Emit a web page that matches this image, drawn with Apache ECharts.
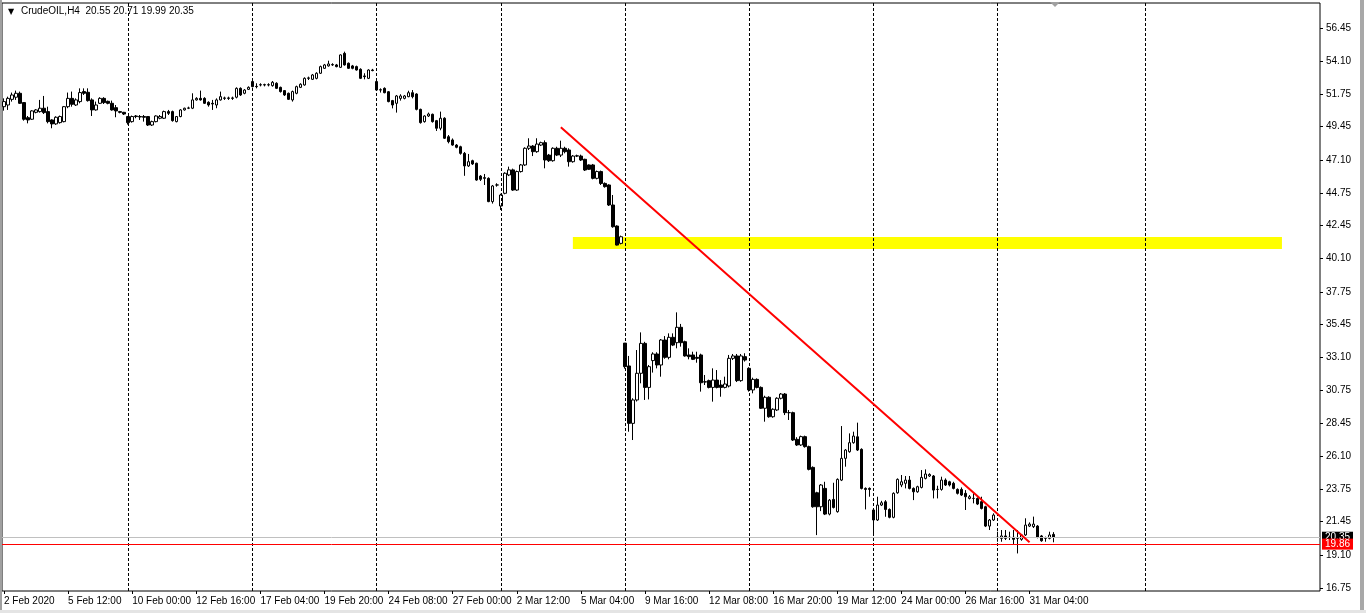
<!DOCTYPE html>
<html><head><meta charset="utf-8">
<script src="https://cdn.jsdelivr.net/npm/echarts@6/dist/echarts.min.js"></script>
<style>html,body{margin:0;padding:0;background:#fff;overflow:hidden}#c{width:1366px;height:613px}</style>
</head><body><div id="c"></div>
<script>
const symbolName = 'CrudeOIL,H4';
const timeLabels = ['2 Feb 2020','5 Feb 12:00','10 Feb 00:00','12 Feb 16:00','17 Feb 04:00','19 Feb 20:00','24 Feb 08:00','27 Feb 00:00','2 Mar 12:00','5 Mar 04:00','9 Mar 16:00','12 Mar 08:00','16 Mar 20:00','19 Mar 12:00','24 Mar 00:00','26 Mar 16:00','31 Mar 04:00'];
const priceTicks = ['56.45','54.10','51.75','49.45','47.10','44.75','42.45','40.10','37.75','35.45','33.10','30.75','28.45','26.10','23.75','21.45','19.10','16.75'];

const opens = [50.87,50.99,51.39,51.54,51.82,51.16,50.09,49.98,50.47,50.52,50.76,50.52,49.93,49.65,49.74,49.81,50.87,51.46,50.99,51.23,51.94,51.89,51.35,50.64,51.11,51.46,51.25,51.11,50.80,50.52,50.47,
50.17,49.81,50.21,50.17,50.17,50.17,49.57,49.81,50.05,50.05,50.52,50.52,49.81,50.17,50.64,50.76,50.76,51.35,51.46,51.46,51.18,51.11,50.99,51.35,51.46,51.49,51.46,51.54,52.17,51.82,52.10,52.65,
52.31,52.41,52.43,52.41,52.36,52.53,52.24,52.01,51.82,51.35,51.82,52.24,52.41,52.88,52.81,52.88,53.24,53.59,53.76,53.83,53.83,53.66,54.65,53.95,53.76,53.71,53.52,53.05,52.88,53.47,
52.65,52.07,52.17,51.93,51.30,51.11,51.46,51.46,51.58,51.86,51.77,50.68,49.81,50.21,50.33,49.88,49.34,50.05,48.74,48.51,48.15,48.03,47.56,46.67,47.04,46.86,45.95,45.84,45.79,44.14,45.32,
43.83,44.73,46.03,46.39,44.96,46.27,46.74,47.92,48.08,47.68,48.15,48.32,47.44,47.04,47.92,47.44,47.92,47.80,46.97,47.37,47.37,47.14,46.74,46.74,45.79,46.27,45.43,45.32,43.90,42.41,41.18,
34.11,32.49,28.42,30.08,31.97,34.09,30.97,32.87,33.34,32.56,34.33,33.10,34.52,34.14,35.23,34.21,33.27,33.27,33.10,33.27,31.37,31.45,30.97,31.49,31.14,30.97,31.07,33.03,33.20,31.45,33.15,
32.32,30.79,31.54,30.97,29.49,30.27,28.89,29.37,30.20,30.50,29.18,29.18,27.29,26.89,27.48,26.77,25.30,23.50,22.51,23.81,21.99,23.03,22.16,24.40,25.94,26.41,27.05,27.47,26.58,23.81,23.81,
22.28,21.57,22.63,22.86,22.32,21.76,23.50,24.05,24.17,24.40,23.81,23.57,23.88,24.52,24.69,24.69,23.74,23.74,24.40,24.28,24.17,23.74,23.74,23.46,23.10,23.10,23.10,22.87,22.51,21.14,21.57,
20.34,20.27,20.44,20.34,20.34,20.27,20.20,20.51,21.14,21.10,21.14,20.44,20.27,20.27,20.55];
const highs = [51.46,51.58,51.87,52.01,51.94,51.18,50.21,50.62,50.70,51.35,51.63,50.87,49.98,50.19,50.24,50.92,51.87,51.94,51.46,52.17,52.17,52.17,51.46,51.23,51.54,51.54,51.30,51.30,50.99,50.57,50.50,
50.21,50.24,50.28,50.28,50.28,50.21,49.88,50.26,50.28,50.59,50.64,50.59,50.21,50.70,50.80,50.87,51.82,51.54,52.01,51.54,51.25,51.35,51.46,51.94,51.58,51.58,51.58,52.24,52.24,52.12,52.31,52.76,
52.53,52.53,52.50,52.53,52.69,52.60,52.29,52.05,51.87,52.01,52.36,52.53,52.95,53.00,53.19,53.31,53.78,53.90,54.13,53.95,53.90,54.58,54.77,54.00,53.83,53.78,53.59,53.24,53.52,53.55,
52.72,52.17,52.24,51.98,51.35,51.70,51.75,51.70,52.00,52.05,51.82,50.73,50.26,50.45,50.38,49.93,50.52,50.12,48.86,48.62,48.22,48.10,47.66,47.52,47.11,46.90,46.02,46.10,45.86,45.32,45.44,
44.70,46.22,46.62,46.48,46.34,46.81,47.99,48.63,48.15,48.63,48.39,48.48,47.52,47.99,48.03,48.46,48.03,47.92,47.44,47.47,47.47,47.18,46.78,46.81,46.34,46.34,45.50,45.37,44.61,42.46,41.73,
34.11,33.20,30.20,33.62,34.87,34.20,32.56,33.46,33.46,34.40,34.61,34.80,34.80,36.29,35.47,34.28,33.74,33.50,33.50,33.36,31.85,31.52,32.32,32.20,31.49,31.73,33.27,33.34,33.34,33.34,33.39,
32.40,31.66,31.61,31.04,30.38,30.34,29.49,30.27,30.57,30.57,29.37,29.25,27.44,27.55,27.55,26.84,25.37,23.57,24.12,24.28,23.05,24.21,24.52,28.23,26.60,27.71,27.83,28.47,26.65,23.88,23.88,
22.35,23.22,22.93,22.98,22.39,23.53,24.52,24.76,24.69,24.69,23.88,24.00,25.11,25.16,24.88,24.76,24.00,24.64,24.52,24.35,24.28,23.81,23.88,23.69,23.34,23.46,23.17,23.22,22.58,21.64,22.04,
20.74,20.86,20.86,20.74,20.86,20.86,20.58,21.69,21.40,21.81,21.21,20.51,20.39,20.74,20.71];
const lows = [50.59,50.64,51.23,51.35,51.06,49.88,49.69,49.93,50.40,50.45,50.35,49.69,49.34,49.58,49.67,49.76,50.76,50.87,50.92,51.11,51.70,51.23,50.21,50.59,51.06,51.06,51.04,50.59,50.12,50.40,50.28,
49.60,49.74,50.05,49.93,49.81,49.50,49.50,49.76,49.98,50.00,50.28,49.81,49.76,50.12,50.59,50.70,50.70,51.30,51.30,51.06,50.87,50.64,50.76,51.30,51.35,51.35,51.35,51.46,51.63,51.75,52.05,52.24,
52.17,52.31,52.31,52.31,52.29,52.12,51.87,51.63,51.35,51.23,51.75,52.19,52.36,52.76,52.76,52.81,53.19,53.55,53.71,53.76,53.66,53.62,53.78,53.55,53.52,53.43,52.83,52.81,52.83,53.38,
51.98,51.87,51.82,51.18,50.75,50.45,51.30,51.39,51.54,51.46,50.61,49.67,49.74,50.14,49.74,49.15,49.20,48.58,48.27,48.10,47.92,47.47,45.97,46.60,46.74,45.62,45.60,45.32,44.10,44.00,45.20,
43.55,44.66,45.95,44.90,44.90,46.20,46.67,47.80,47.37,47.60,48.08,46.50,46.95,46.97,47.37,47.30,47.56,46.62,46.90,47.30,47.02,46.31,46.38,45.72,45.72,45.32,45.13,43.83,42.29,41.03,41.11,
32.30,27.83,27.24,29.97,31.26,30.08,30.12,32.02,32.32,31.73,33.00,32.96,33.90,33.74,33.86,33.15,32.96,32.91,32.72,30.67,31.14,30.90,29.96,30.90,30.31,30.90,30.97,32.91,31.35,31.37,32.80,
30.67,30.55,30.90,29.44,28.54,28.82,28.82,29.30,30.12,29.01,28.66,27.17,26.82,26.82,26.70,25.09,22.44,20.50,22.20,21.92,21.90,22.39,22.09,24.33,25.35,26.34,26.98,26.46,23.74,22.32,23.22,
20.62,21.50,22.56,21.80,21.69,21.69,23.43,23.90,23.81,23.74,22.98,23.50,23.81,24.45,24.62,23.10,23.10,23.65,23.98,23.95,23.74,23.38,23.27,22.28,23.03,22.75,22.63,22.32,21.07,20.86,21.50,
20.03,20.03,20.15,20.15,19.87,19.20,20.10,20.44,21.07,21.00,20.27,20.03,20.03,20.20,19.99];
const closes = [51.23,51.46,51.70,51.82,51.11,49.98,49.93,50.57,50.64,50.76,50.45,49.81,49.65,50.12,50.17,50.87,51.46,51.04,51.35,51.87,51.82,51.30,50.64,50.99,51.46,51.16,51.11,50.64,50.57,50.47,50.35,
49.74,50.17,50.17,50.14,50.12,49.57,49.81,50.21,50.17,50.52,50.40,49.88,50.17,50.64,50.76,50.78,51.35,51.46,51.35,51.11,50.99,51.06,51.35,51.58,51.49,51.46,51.49,52.17,51.70,52.05,52.24,52.29,
52.29,52.43,52.41,52.43,52.60,52.17,51.94,51.70,51.39,51.94,52.29,52.46,52.88,52.91,53.12,53.24,53.71,53.83,53.90,53.86,53.71,54.54,53.83,53.59,53.59,53.47,52.88,53.00,53.47,53.43,
52.05,52.05,51.86,51.23,50.99,51.63,51.63,51.63,51.86,51.58,50.68,49.74,50.21,50.35,49.81,49.34,50.05,48.63,48.39,48.15,47.99,47.56,46.67,46.97,46.81,45.67,45.72,45.79,44.14,45.25,45.32,
44.61,46.15,46.39,44.96,46.27,46.74,47.92,48.08,47.68,48.22,48.32,47.09,47.04,47.92,47.44,47.92,47.68,46.97,47.37,47.39,47.09,46.38,46.43,45.79,46.27,45.43,45.20,43.90,42.36,41.06,41.65,
32.44,28.42,30.08,31.97,34.09,30.97,32.44,33.34,32.56,34.33,33.10,34.52,33.97,35.23,34.14,33.20,33.15,32.96,33.03,31.30,31.35,30.97,31.49,30.97,30.97,31.21,33.03,33.20,31.45,33.20,32.91,
30.79,31.54,30.97,29.49,30.27,28.89,29.42,30.20,30.50,29.18,29.18,27.24,26.89,27.48,26.77,25.16,22.51,22.51,24.05,21.99,22.98,22.46,24.45,25.94,26.53,27.05,27.52,26.53,23.81,23.74,23.74,
21.57,22.63,22.79,22.32,21.76,23.46,24.45,24.28,24.40,23.81,23.57,23.93,24.59,24.83,24.80,23.69,23.74,24.40,24.05,24.05,23.81,23.46,23.34,23.22,23.22,23.10,22.70,22.39,21.14,21.57,21.92,
20.34,20.44,20.27,20.34,20.20,20.27,20.51,21.21,21.28,21.28,20.34,20.10,20.27,20.51,20.35];

const weekSeparators = [31, 62, 93, 124, 155, 186, 217, 248, 285];
const zoneStart = 142, zoneEnd = 319, zoneTop = 41.63, zoneBottom = 40.78;
const trendStart = [139, 49.41], trendEnd = [256, 20.00];
const levelPrice = 19.86;
const bidPrice = 20.35;
const slotCount = 329;

const categories = [];
for (let i = 0; i < slotCount; i++) categories.push('b' + i);
const candles = opens.map((o, i) => [o, closes[i], lows[i], highs[i]]);
const last = opens.length - 1;
const titleText = symbolName + '  ' + opens[last].toFixed(2) + ' ' + highs[last].toFixed(2) + ' ' + lows[last].toFixed(2) + ' ' + closes[last].toFixed(2);
const tickVals = priceTicks.map(Number);
const hasTimeLabel = idx => idx % 16 === 0 && idx / 16 < timeLabels.length;
const FONT = 'Liberation Sans';

const chart = echarts.init(document.getElementById('c'), null, {renderer: 'canvas'});
chart.setOption({
  animation: false,
  backgroundColor: '#ffffff',
  title: [
    {text: '▼', left: 8, top: 8, padding: 0, textStyle: {fontFamily: 'DejaVu Sans', fontSize: 8, fontWeight: 'normal', color: '#000'}},
    {text: titleText, left: 21, top: 6, padding: 0, textStyle: {fontFamily: FONT, fontSize: 10, fontWeight: 'normal', color: '#000'}}
  ],
  grid: {left: 2, right: 46, top: 3, bottom: 22, show: true, borderColor: '#000', borderWidth: 1, backgroundColor: '#fff', containLabel: false, outerBoundsMode: 'none'},
  xAxis: {
    type: 'category', data: categories, boundaryGap: true,
    axisLine: {show: false},
    axisTick: {show: true, interval: idx => hasTimeLabel(idx), alignWithLabel: true, length: 3, lineStyle: {color: '#000'}},
    axisLabel: {interval: idx => hasTimeLabel(idx), align: 'left', margin: 5, fontFamily: FONT, fontSize: 10, color: '#000',
      formatter: (v, idx) => hasTimeLabel(idx) ? timeLabels[idx / 16] : ''},
    splitLine: {show: false}
  },
  yAxis: {
    type: 'value', position: 'right', min: 16.537, max: 58.22, scale: true,
    axisLine: {show: false},
    axisTick: {show: true, length: 3, customValues: tickVals, lineStyle: {color: '#000'}},
    axisLabel: {customValues: tickVals, margin: 6, fontFamily: FONT, fontSize: 10, color: '#000',
      formatter: v => priceTicks[tickVals.indexOf(v)] || v.toFixed(2)},
    splitLine: {show: false}
  },
  series: [
    {
      type: 'line', data: [], z: 1, silent: true, clip: false,
      markArea: {silent: true, itemStyle: {color: '#ffff00', opacity: 1},
        data: [[{xAxis: zoneStart, yAxis: zoneTop}, {xAxis: zoneEnd, yAxis: zoneBottom}]]},
      markLine: {silent: true, symbol: ['none', 'none'], animation: false,
        lineStyle: {color: '#000', width: 1, type: [3, 2]},
        label: {show: false},
        data: weekSeparators.map(w => ({xAxis: w}))}
    },
    {
      type: 'line', data: [], z: 2, silent: true, clip: false,
      markLine: {silent: true, symbol: ['none', 'none'], animation: false,
        data: [{yAxis: bidPrice, lineStyle: {color: '#c0c0c0', width: 1, type: 'solid'},
          label: {show: true, position: 'end', distance: 2, formatter: bidPrice.toFixed(2), color: '#fff', backgroundColor: '#000', padding: [1, 3, 0, 3], fontFamily: FONT, fontSize: 10}}]}
    },
    {
      type: 'candlestick', data: candles, z: 3, barWidth: 3, silent: true,
      itemStyle: {color: '#ffffff', color0: '#000000', borderColor: '#000000', borderColor0: '#000000', borderWidth: 1}
    },
    {
      type: 'line', data: [], z: 5, silent: true, clip: false,
      markLine: {silent: true, symbol: ['none', 'none'], animation: false,
        data: [
          [{coord: trendStart, lineStyle: {color: '#ff0000', width: 2, type: 'solid'}, label: {show: false}}, {coord: trendEnd}],
          {yAxis: levelPrice, lineStyle: {color: '#ff0000', width: 1, type: 'solid'},
            label: {show: true, position: 'end', distance: 2, formatter: levelPrice.toFixed(2), color: '#fff', backgroundColor: '#ff0000', padding: [1, 3, 0, 3], fontFamily: FONT, fontSize: 10}}
        ]}
    }
  ],
  graphic: [
    {type: 'rect', shape: {x: 0, y: 0, width: 2, height: 613}, style: {fill: '#a0a0a0'}, silent: true},
    {type: 'rect', shape: {x: 1360, y: 0, width: 4, height: 613}, style: {fill: '#a8a8a8'}, silent: true},
    {type: 'rect', shape: {x: 0, y: 610, width: 1366, height: 3}, style: {fill: '#e4e4e4'}, silent: true},
    {type: 'polygon', shape: {points: [[1050, 2], [1060, 2], [1055, 7]]}, style: {fill: '#a0a0a0'}, silent: true}
  ]
});
</script></body></html>
